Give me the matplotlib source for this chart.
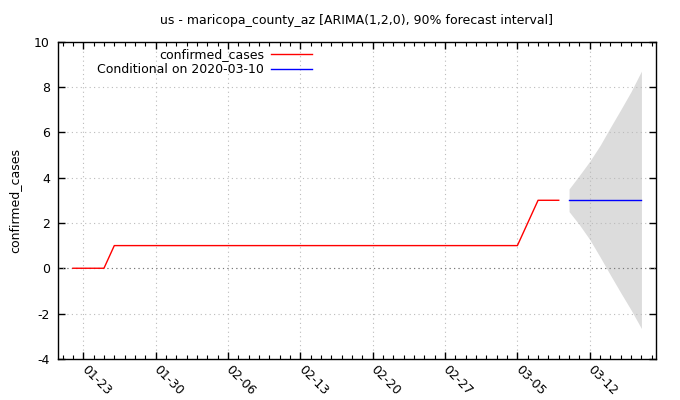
import numpy as np
import pandas as pd
import matplotlib
matplotlib.use("Agg")
import matplotlib.pyplot as plt
import matplotlib.dates as mdates

# observed series, daily from 2020-01-22
obs_start = "2020-01-22"
confirmed = [0, 0, 0, 0, 1, 1, 1, 1, 1, 1,
             1, 1, 1, 1, 1, 1, 1, 1, 1, 1,
             1, 1, 1, 1, 1, 1, 1, 1, 1, 1,
             1, 1, 1, 1, 1, 1, 1, 1, 1, 1,
             1, 1, 1, 1, 2, 3, 3, 3]

# forecast, daily from 2020-03-10
fc_start = "2020-03-10"
fc_mean = [3, 3, 3, 3, 3, 3, 3, 3]
fc_upper = [3.5, 4.1, 4.72, 5.42, 6.22, 7.0, 7.8, 8.7]
fc_lower = [2.5, 1.92, 1.27, 0.5, -0.3, -1.08, -1.84, -2.66]

title = "us - maricopa_county_az [ARIMA(1,2,0), 90% forecast interval]"
ylabel = "confirmed_cases"
label_obs = "confirmed_cases"
label_fc = "Conditional on 2020-03-10"
xtick_dates = ["2020-01-23", "2020-01-30", "2020-02-06", "2020-02-13",
               "2020-02-20", "2020-02-27", "2020-03-05", "2020-03-12"]


def main():
    plt.rcParams['font.family'] = ['DejaVu Sans']
    plt.rcParams['axes.unicode_minus'] = False
    obs_dates = pd.date_range(obs_start, periods=len(confirmed), freq="D")
    fc_dates = pd.date_range(fc_start, periods=len(fc_mean), freq="D")

    fig = plt.figure(figsize=(6.8, 4.0), dpi=100)
    ax = fig.add_axes([0.0857, 0.1028, 0.8790, 0.7930])

    ax.fill_between(fc_dates, fc_lower, fc_upper, color="#dcdcdc", linewidth=0, zorder=1)
    ax.plot(obs_dates, confirmed, color="red", linewidth=1, label=label_obs, zorder=3)
    ax.plot(fc_dates, fc_mean, color="blue", linewidth=1, label=label_fc, zorder=3)

    x0 = mdates.date2num(pd.Timestamp("2020-01-23")) - 2.42
    x1 = mdates.date2num(pd.Timestamp("2020-03-12")) + 6.41
    ax.set_xlim(x0, x1)
    ax.set_ylim(-4, 10)
    ax.set_yticks(np.arange(-4, 11, 2))

    ticks = [mdates.date2num(pd.Timestamp(d)) for d in xtick_dates]
    ax.set_xticks(ticks)
    ax.set_xticklabels([pd.Timestamp(d).strftime("%m-%d") for d in xtick_dates],
                       rotation=-45, ha="left", va="center", rotation_mode="anchor")
    ax.xaxis.set_minor_locator(mdates.DayLocator())

    ax.tick_params(which="both", direction="in", top=True, right=True, labelsize=9)
    ax.tick_params(which="major", length=5, width=1)
    ax.tick_params(which="minor", length=3, width=0.8)
    ax.tick_params(axis="x", which="major", pad=6)
    ax.tick_params(axis="y", which="major", pad=6)

    ax.grid(True, which="major", color="#bbbbbb", linestyle=(0, (1, 3)), linewidth=0.8)
    ax.axhline(0, color="#777777", linestyle=(0, (1, 3)), linewidth=0.8, zorder=2)
    for s in ax.spines.values():
        s.set_linewidth(1)

    ax.set_ylabel(ylabel, fontsize=9, labelpad=9)
    fig.suptitle(title, fontsize=9, x=0.525, y=0.965)

    ax.legend(loc="upper right", bbox_to_anchor=(0.435, 1.0), frameon=False,
              markerfirst=False, fontsize=9, handlelength=3.3,
              handletextpad=0.55, labelspacing=0.2, borderaxespad=0.0,
              borderpad=0.5)

    fig.savefig("out.png", dpi=100)
    plt.close(fig)


if __name__ == "__main__":
    main()
